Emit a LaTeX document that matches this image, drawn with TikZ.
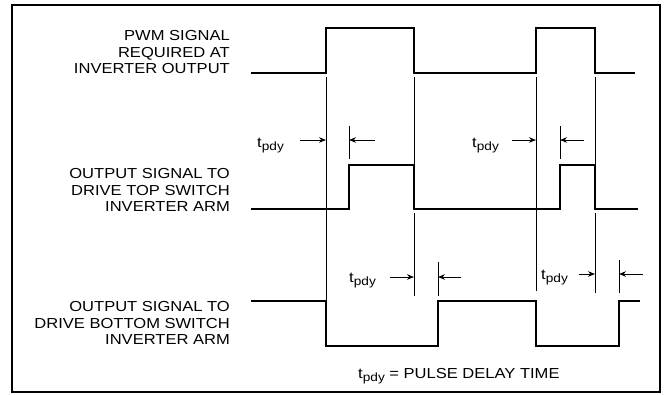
\documentclass[tikz,border=0pt]{standalone}
\usepackage{fontspec}
\setmainfont{Liberation Sans}[FakeStretch=1.14]
\usetikzlibrary{arrows.meta}
\newcommand{\tpdy}{t\raisebox{-3.5pt}{\fontsize{12}{12}\selectfont pdy}}
\begin{document}
\begin{tikzpicture}[x=1pt,y=-1pt,
  sig/.style={line width=2.6pt, line join=miter},
  thinln/.style={line width=0.9pt},
  dimarrow/.style={line width=0.9pt,-{Stealth[length=7pt,width=5.5pt]}},
  lbl/.style={anchor=north east, align=right, inner sep=0pt, font=\fontsize{14.5}{16.8}\selectfont},
  tp/.style={anchor=base west, inner sep=0pt, font=\fontsize{14.5}{16}\selectfont}]
\useasboundingbox (0,0) rectangle (664,394);
\draw[line width=1.5pt] (12,5) rectangle (660,392);
% waveforms
\draw[sig] (251,73) -- (326,73) -- (326,28) -- (414,28) -- (414,73) -- (536,73) -- (536,28) -- (595,28) -- (595,73) -- (635,73);
\draw[sig] (251,209) -- (349,209) -- (349,165) -- (414,165) -- (414,209) -- (560,209) -- (560,165) -- (595,165) -- (595,209) -- (638,209);
\draw[sig] (251,301) -- (326,301) -- (326,346) -- (438,346) -- (438,301) -- (536,301) -- (536,346) -- (619,346) -- (619,301) -- (640,301);
% labels
\node[lbl] (l1) at (230,30) {PWM SIGNAL\\REQUIRED AT\\INVERTER OUTPUT};
\node[lbl] (l2) at (230,168) {OUTPUT SIGNAL TO\\DRIVE TOP SWITCH\\INVERTER ARM};
\node[lbl] (l3) at (230,301) {OUTPUT SIGNAL TO\\DRIVE BOTTOM SWITCH\\INVERTER ARM};
% extension lines
\draw[thinln] (326,77) -- (326,301);
\draw[thinln] (414,77) -- (414,165);
\draw[thinln] (414,213) -- (414,296);
\draw[thinln] (536,77) -- (536,291);
\draw[thinln] (595,77) -- (595,165);
\draw[thinln] (595,213) -- (595,293);
\draw[thinln] (349,126) -- (349,159);
\draw[thinln] (560,126) -- (560,159);
\draw[thinln] (438,262) -- (438,296);
\draw[thinln] (619,260) -- (619,293);
% dimension arrows
\draw[dimarrow] (300,140) -- (326,140);
\draw[dimarrow] (375,140) -- (349,140);
\draw[dimarrow] (512,140) -- (536,140);
\draw[dimarrow] (584,140) -- (560,140);
\draw[dimarrow] (390,277) -- (414,277);
\draw[dimarrow] (461,277) -- (438,277);
\draw[dimarrow] (579,274) -- (595,274);
\draw[dimarrow] (643,274) -- (619,274);
% tpdy labels
\node[tp] (t1) at (257,147) {\tpdy};
\node[tp] (t2) at (472,147) {\tpdy};
\node[tp] (t3) at (349,282) {\tpdy};
\node[tp] (t4) at (541,279) {\tpdy};
\node[tp] (cap) at (358,378) {\tpdy{} = PULSE DELAY TIME};
\end{tikzpicture}
\end{document}
